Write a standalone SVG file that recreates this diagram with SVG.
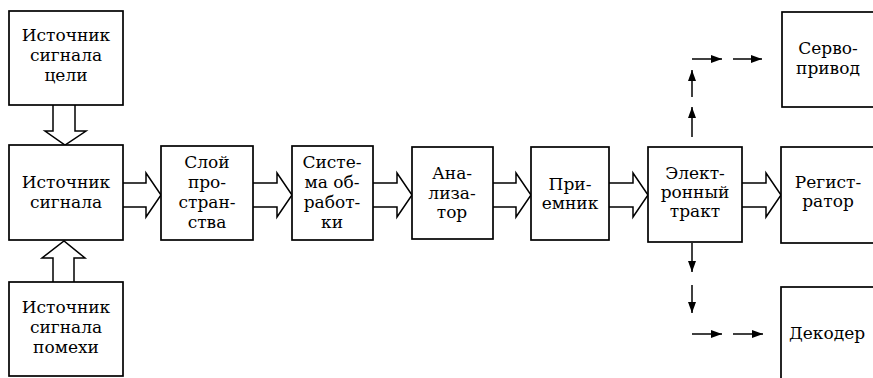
<svg xmlns="http://www.w3.org/2000/svg" width="873" height="378" viewBox="0 0 873 378">
<defs>
<style>
.box{fill:#fff;stroke:#000;stroke-width:1.7}
.ha{fill:#fff;stroke:#000;stroke-width:1.5;stroke-linejoin:miter}
.sa{fill:none;stroke:#000;stroke-width:1.5}
.t{font-family:'DejaVu Serif',serif;font-size:17px;fill:#000;text-anchor:middle}
</style>
<marker id="ah" markerUnits="userSpaceOnUse" markerWidth="12" markerHeight="10" refX="11" refY="4" orient="auto">
<path d="M0,0 L11,4 L0,8 Z" fill="#000"/>
</marker>
</defs>
<rect width="873" height="378" fill="#fff"/>
<g id="connectors">
<path class="ha" d="M53,105 V131 H45 L65,145 L86,131 H75 V105"/>
<path class="ha" d="M53,282 V258 H42 L64,241 L85,258 H74 V282"/>
<path class="ha" d="M123,183 H146 V173 L161,195 L146,217 V207 H123"/>
<path class="ha" d="M253,183 H277 V173 L292,195 L277,217 V207 H253"/>
<path class="ha" d="M373,183 H397 V173 L412,195 L397,217 V207 H373"/>
<path class="ha" d="M493,183 H516 V173 L531,195 L516,217 V207 H493"/>
<path class="ha" d="M609,183 H633 V173 L648,195 L633,217 V207 H609"/>
<path class="ha" d="M742,183 H766 V173 L781,195 L766,217 V207 H742"/>
<line class="sa" x1="692" y1="137" x2="692" y2="107" marker-end="url(#ah)"/>
<line class="sa" x1="692" y1="97" x2="692" y2="70" marker-end="url(#ah)"/>
<line class="sa" x1="692" y1="59" x2="722" y2="59" marker-end="url(#ah)"/>
<line class="sa" x1="733" y1="59" x2="762" y2="59" marker-end="url(#ah)"/>
<line class="sa" x1="692" y1="243" x2="692" y2="272" marker-end="url(#ah)"/>
<line class="sa" x1="692" y1="285" x2="692" y2="313" marker-end="url(#ah)"/>
<line class="sa" x1="692" y1="334" x2="722" y2="334" marker-end="url(#ah)"/>
<line class="sa" x1="733" y1="334" x2="763" y2="334" marker-end="url(#ah)"/>
</g>
<g id="src_target">
<rect class="box" x="9" y="11" width="114" height="94"/>
<text class="t" x="66" y="41">Источник</text>
<text class="t" x="66" y="61">сигнала</text>
<text class="t" x="66" y="81">цели</text>
</g>
<g id="src">
<rect class="box" x="9" y="145" width="114" height="95"/>
<text class="t" x="66" y="188">Источник</text>
<text class="t" x="66" y="208">сигнала</text>
</g>
<g id="src_noise">
<rect class="box" x="9" y="282" width="114" height="94"/>
<text class="t" x="66" y="313">Источник</text>
<text class="t" x="66" y="333">сигнала</text>
<text class="t" x="66" y="353">помехи</text>
</g>
<g id="layer">
<rect class="box" x="161" y="146" width="92" height="94"/>
<text class="t" x="207" y="168">Слой</text>
<text class="t" x="207" y="188">про-</text>
<text class="t" x="207" y="208">стран-</text>
<text class="t" x="207" y="228">ства</text>
</g>
<g id="proc">
<rect class="box" x="292" y="146" width="81" height="94"/>
<text class="t" x="332" y="168">Систе-</text>
<text class="t" x="332" y="188">ма об-</text>
<text class="t" x="332" y="208">работ-</text>
<text class="t" x="332" y="228">ки</text>
</g>
<g id="analyzer">
<rect class="box" x="412" y="147" width="81" height="92"/>
<text class="t" x="452" y="179">Ана-</text>
<text class="t" x="452" y="199">лиза-</text>
<text class="t" x="452" y="218">тор</text>
</g>
<g id="receiver">
<rect class="box" x="531" y="147" width="78" height="93"/>
<text class="t" x="570" y="190">При-</text>
<text class="t" x="570" y="209">емник</text>
</g>
<g id="electronic">
<rect class="box" x="648" y="147" width="94" height="95"/>
<text class="t" x="695" y="179">Элект-</text>
<text class="t" x="695" y="198">ронный</text>
<text class="t" x="695" y="217">тракт</text>
</g>
<g id="servo">
<rect class="box" x="782" y="12" width="100" height="95"/>
<text class="t" x="828" y="54">Серво-</text>
<text class="t" x="828" y="74">привод</text>
</g>
<g id="registrar">
<rect class="box" x="781" y="147" width="100" height="96"/>
<text class="t" x="828" y="188">Регист-</text>
<text class="t" x="828" y="207">ратор</text>
</g>
<g id="decoder">
<rect class="box" x="781" y="287" width="100" height="100"/>
<text class="t" x="827" y="339">Декодер</text>
</g>
</svg>
